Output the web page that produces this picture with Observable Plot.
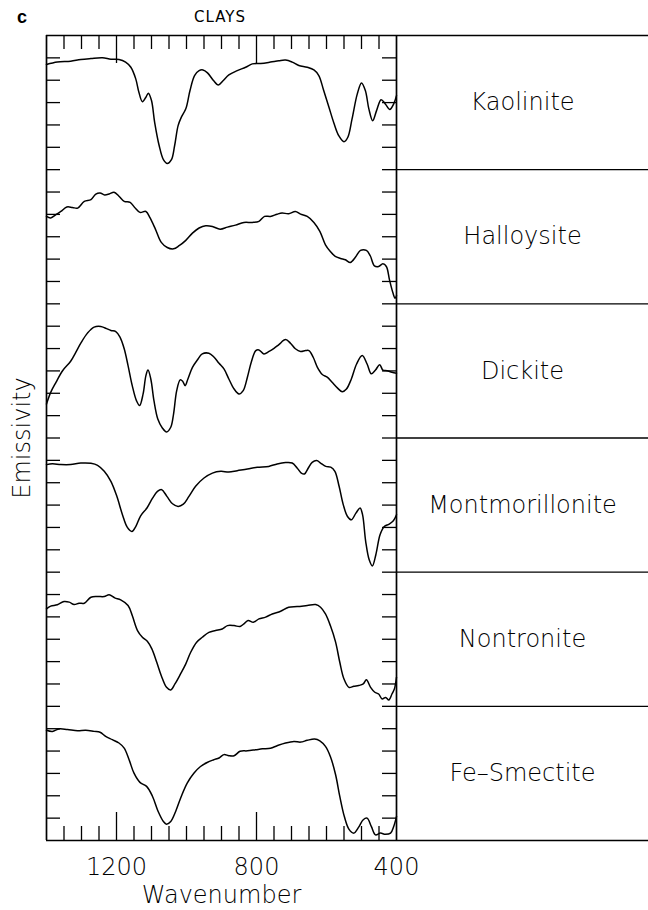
<!DOCTYPE html>
<html>
<head>
<meta charset="utf-8">
<script src="https://cdn.jsdelivr.net/npm/d3@7"></script>
<script src="https://cdn.jsdelivr.net/npm/@observablehq/plot@0.6"></script>
<style>
  html, body { margin: 0; padding: 0; background: #fff; }
  #page { position: relative; width: 648px; }
  #header { position: relative; height: 30px; }
  #panel-letter { position: absolute; left: 17px; top: 8px; font: bold 18px/18px "Liberation Sans", Arial, sans-serif; }
  #title { position: absolute; left: 0; width: 440px; text-align: center; top: 10px; font: 400 15px/15px "DejaVu Sans", sans-serif; letter-spacing: 1px; }
  svg text { font-family: "DejaVu Sans", sans-serif; font-weight: 200; }
</style>
</head>
<body>
<div id="page">
  <div id="header">
    <div id="panel-letter">c</div>
    <div id="title">CLAYS</div>
  </div>
  <div id="chart"></div>
</div>
<script>
// Emission spectra of clay minerals, stacked one per band.
// Each series: [wavenumber (cm^-1), emissivity in axis-tick units within its band (0–6)].
const minerals = ["Kaolinite", "Halloysite", "Dickite", "Montmorillonite", "Nontronite", "Fe\u2013Smectite"];

const kaolinite = [
  [1400,4.70],[1369,4.81],[1331,4.85],[1302,4.93],[1273,4.97],[1240,5.00],[1216,4.94],[1193,4.93],
  [1174,4.81],[1159,4.58],[1145,4.06],[1136,3.46],[1126,3.04],[1116,3.24],[1109,3.42],[1100,3.09],
  [1091,2.12],[1078,1.07],[1066,0.45],[1055,0.28],[1043,0.45],[1034,1.07],[1024,1.97],[1015,2.34],
  [1002,2.72],[990,3.54],[977,4.21],[964,4.43],[953,4.46],[940,4.33],[923,3.99],[909,3.79],
  [895,3.99],[879,4.24],[855,4.43],[831,4.58],[812,4.73],[788,4.75],[760,4.81],[736,4.87],
  [717,4.90],[698,4.81],[679,4.66],[655,4.58],[636,4.46],[622,4.21],[608,3.54],[593,2.79],
  [579,2.09],[565,1.52],[550,1.25],[539,1.45],[527,2.27],[512,3.39],[500,3.88],[489,3.54],
  [479,2.72],[468,2.19],[457,2.64],[444,3.13],[432,2.94],[419,2.69],[408,2.94],[400,3.31]
];

const halloysite = [
  [1400,3.91],[1388,3.84],[1373,3.99],[1359,4.13],[1342,4.33],[1326,4.31],[1311,4.28],[1292,4.58],
  [1273,4.66],[1259,4.91],[1247,4.96],[1234,4.87],[1221,4.91],[1207,4.99],[1193,4.81],[1178,4.58],
  [1161,4.54],[1148,4.31],[1133,4.09],[1116,4.13],[1104,3.84],[1088,3.31],[1072,2.75],[1055,2.52],
  [1037,2.46],[1021,2.60],[1002,2.84],[983,3.16],[964,3.39],[945,3.49],[926,3.46],[904,3.34],
  [883,3.43],[860,3.52],[836,3.64],[812,3.64],[793,3.69],[777,3.91],[760,3.91],[741,4.01],
  [727,4.06],[708,4.03],[689,4.13],[674,4.01],[655,3.91],[636,3.64],[619,3.24],[603,2.64],
  [589,2.34],[575,2.12],[560,2.03],[546,1.97],[532,1.85],[517,2.09],[503,2.39],[486,2.39],
  [475,2.15],[463,1.70],[451,1.67],[439,1.79],[429,1.67],[420,1.07],[410,0.48],[404,0.25],[400,0.36]
];

const dickite = [
  [1400,1.52],[1388,2.04],[1373,2.49],[1354,3.01],[1331,3.43],[1316,3.84],[1302,4.24],[1283,4.69],
  [1264,4.96],[1245,4.99],[1231,4.91],[1216,4.81],[1202,4.76],[1190,4.51],[1178,3.99],[1167,3.24],
  [1155,2.34],[1143,1.67],[1134,1.45],[1124,1.97],[1116,2.79],[1110,3.04],[1102,2.64],[1093,1.67],
  [1082,0.85],[1069,0.45],[1057,0.27],[1045,0.48],[1037,1.07],[1028,2.12],[1018,2.60],[1011,2.54],
  [1004,2.34],[996,2.64],[983,3.16],[969,3.49],[955,3.76],[936,3.79],[921,3.61],[907,3.34],
  [893,3.09],[879,2.64],[864,2.19],[850,1.97],[838,2.12],[826,2.72],[815,3.39],[802,3.91],
  [793,3.94],[779,3.76],[764,3.87],[750,4.01],[736,4.18],[717,4.40],[703,4.24],[689,3.99],
  [674,3.87],[660,3.91],[650,3.91],[638,3.61],[626,3.16],[612,2.84],[598,2.72],[584,2.49],
  [569,2.24],[555,2.07],[543,2.19],[529,2.64],[514,3.31],[498,3.69],[484,3.31],[472,2.87],
  [460,3.04],[448,3.28],[439,3.04],[427,3.01],[413,2.94],[400,2.90]
];

const montmorillonite = [
  [1400,4.81],[1383,4.85],[1359,4.81],[1331,4.81],[1302,4.88],[1273,4.87],[1254,4.78],[1235,4.51],
  [1216,4.06],[1199,3.39],[1183,2.57],[1169,2.00],[1156,1.82],[1145,2.04],[1131,2.52],[1113,2.87],
  [1097,3.31],[1083,3.61],[1071,3.69],[1056,3.39],[1040,3.06],[1024,2.94],[1009,3.04],[993,3.39],
  [974,3.84],[950,4.21],[926,4.43],[902,4.51],[879,4.48],[855,4.54],[826,4.61],[798,4.69],
  [765,4.73],[741,4.84],[717,4.90],[698,4.88],[684,4.66],[672,4.43],[663,4.39],[652,4.66],
  [641,4.91],[628,4.99],[617,4.88],[602,4.73],[588,4.70],[576,4.51],[564,3.84],[552,3.01],
  [540,2.49],[529,2.34],[516,2.64],[504,2.87],[497,2.57],[488,1.37],[478,0.55],[469,0.28],
  [459,0.78],[447,1.67],[435,2.04],[421,2.15],[409,2.30],[400,2.57]
];

const nontronite = [
  [1400,4.36],[1388,4.48],[1369,4.54],[1350,4.69],[1335,4.66],[1321,4.55],[1307,4.61],[1292,4.61],
  [1273,4.88],[1254,4.91],[1235,4.91],[1221,4.99],[1205,4.85],[1188,4.76],[1167,4.51],[1155,4.06],
  [1140,3.39],[1126,3.09],[1112,2.91],[1099,2.57],[1085,1.97],[1072,1.37],[1057,0.85],[1045,0.73],
  [1033,1.00],[1017,1.45],[1002,1.90],[988,2.42],[971,2.87],[955,3.09],[936,3.31],[917,3.39],
  [898,3.46],[883,3.61],[864,3.61],[847,3.57],[836,3.69],[824,3.84],[809,3.76],[793,3.91],
  [774,3.99],[755,4.13],[731,4.25],[708,4.43],[684,4.46],[655,4.51],[631,4.55],[617,4.43],
  [603,4.13],[589,3.61],[574,2.87],[562,1.97],[550,1.22],[536,0.85],[522,0.90],[508,0.93],
  [495,1.00],[486,1.19],[474,0.85],[462,0.63],[451,0.55],[441,0.33],[431,0.40],[422,0.28],
  [413,0.55],[406,0.78],[400,1.30]
];

const feSmectite = [
  [1400,4.93],[1383,4.88],[1364,4.99],[1340,4.96],[1311,4.91],[1288,4.93],[1264,4.88],[1247,4.84],
  [1231,4.66],[1212,4.51],[1193,4.36],[1178,4.13],[1164,3.61],[1150,3.01],[1133,2.60],[1114,2.42],
  [1097,1.97],[1081,1.30],[1066,0.85],[1057,0.73],[1045,0.85],[1031,1.30],[1015,1.97],[998,2.57],
  [979,3.01],[960,3.31],[941,3.49],[922,3.61],[907,3.69],[893,3.84],[879,3.79],[864,3.79],
  [847,3.99],[826,4.01],[802,4.06],[783,4.10],[760,4.13],[741,4.24],[717,4.36],[693,4.43],
  [674,4.40],[655,4.48],[634,4.54],[619,4.46],[603,4.21],[589,3.76],[574,2.94],[562,1.97],
  [549,1.07],[536,0.51],[522,0.33],[508,0.60],[495,0.93],[484,1.00],[472,0.63],[460,0.25],
  [446,0.33],[432,0.28],[417,0.33],[408,0.63],[400,1.07]
];

const spectra = [kaolinite, halloysite, dickite, montmorillonite, nontronite, feSmectite];

// Axis ticks
const xLabelTicks = [1200, 800, 400];
const xMajorTicks = [1200, 800];
const xMinorTicks = [1350, 1300, 1250, 1150, 1100, 1050, 1000, 950, 900, 850,
                     750, 700, 650, 600, 550, 500, 450];
const bandHeight = 6;                 // tick units per mineral band
const yTicks = d3.range(1, minerals.length * bandHeight);
const bandEdges = d3.range(1, minerals.length).map(i => i * bandHeight);

// Layout
const width = 648, height = 880;
const marginTop = 5, marginBottom = 70, marginLeft = 46, marginRight = 252;
const frameW = width - marginLeft - marginRight;
const frameH = height - marginTop - marginBottom;
const xDomain = [1400, 400];
// wavenumber that falls on the right edge of the svg (the label column extends there)
const xEdge = d3.scaleLinear(xDomain, [marginLeft, width - marginRight]).invert(width);

const offsetOf = i => (minerals.length - 1 - i) * bandHeight;
const rows = spectra.flatMap((s, i) =>
  s.map(([w, e]) => ({mineral: minerals[i], w, y: offsetOf(i) + e})));
const labels = minerals.map((m, i) => ({mineral: m, y: offsetOf(i) + bandHeight / 2}));

const minorLen = 14, majorLen = 28, yTickLen = 14;
const ink = "#000";

const chart = Plot.plot({
  width, height, marginTop, marginBottom, marginLeft, marginRight,
  x: {domain: xDomain, axis: null},
  y: {domain: [0, minerals.length * bandHeight], axis: null},
  marks: [
    // plot box: verticals
    Plot.ruleX(xDomain, {stroke: ink, strokeWidth: 1.7}),
    // top and bottom lines running across the label column
    Plot.ruleY([0, minerals.length * bandHeight], {x1: xDomain[0], x2: xEdge, stroke: ink, strokeWidth: 1.7}),
    // dividers between label cells
    Plot.ruleY(bandEdges, {x1: xDomain[1], x2: xEdge, stroke: ink, strokeWidth: 1.3}),
    // x ticks (inward, top and bottom)
    Plot.tickX(xMinorTicks, {x: d => d, insetTop: frameH - minorLen, stroke: ink, strokeWidth: 1.3}),
    Plot.tickX(xMinorTicks, {x: d => d, insetBottom: frameH - minorLen, stroke: ink, strokeWidth: 1.3}),
    Plot.tickX(xMajorTicks, {x: d => d, insetTop: frameH - majorLen, stroke: ink, strokeWidth: 1.3}),
    Plot.tickX(xMajorTicks, {x: d => d, insetBottom: frameH - majorLen, stroke: ink, strokeWidth: 1.3}),
    // y ticks (inward, left and right)
    Plot.tickY(yTicks, {y: d => d, insetRight: frameW - yTickLen, stroke: ink, strokeWidth: 1.3}),
    Plot.tickY(yTicks, {y: d => d, insetLeft: frameW - yTickLen, stroke: ink, strokeWidth: 1.3}),
    // spectra
    Plot.line(rows, {x: "w", y: "y", z: "mineral", curve: "catmull-rom", stroke: ink, strokeWidth: 1.5}),
    // x tick labels and axis labels
    Plot.text(xLabelTicks, {x: d => d, text: d => String(d), frameAnchor: "bottom", dy: 34, fontSize: 24, fill: ink}),
    Plot.text(["Wavenumber"], {frameAnchor: "bottom", dy: 62, fontSize: 24, fill: ink}),
    Plot.text(["Emissivity"], {frameAnchor: "left", textAnchor: "middle", dx: -24, rotate: -90, fontSize: 24, fill: ink}),
    // mineral names centred in the label column
    Plot.text(labels, {y: "y", text: "mineral", frameAnchor: "right", textAnchor: "middle", dx: marginRight / 2, fontSize: 24, fill: ink})
  ]
});
document.getElementById("chart").appendChild(chart);
</script>
</body>
</html>
